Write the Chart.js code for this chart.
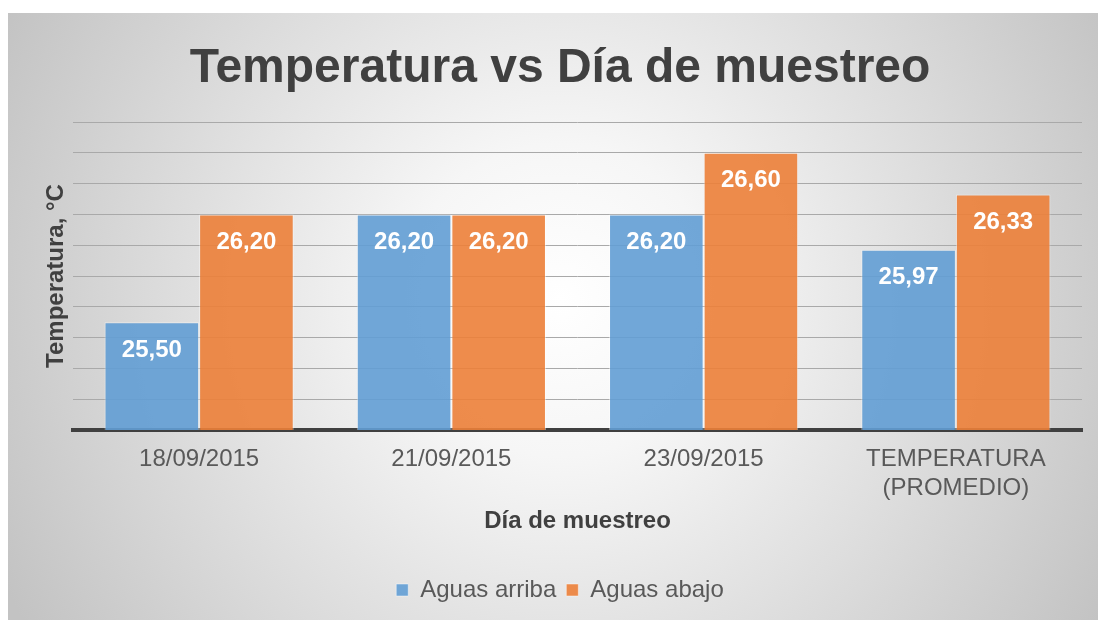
<!DOCTYPE html>
<html>
<head>
<meta charset="utf-8">
<script src="https://cdn.jsdelivr.net/npm/chart.js@4"></script>
<style>
  html, body { margin: 0; padding: 0; background: #ffffff; }
  #wrap { width: 1098px; height: 620px; position: relative; }
</style>
</head>
<body>
<div id="wrap"><canvas id="c" width="1098" height="620"></canvas></div>
<script>
const categories = ["18/09/2015", "21/09/2015", "23/09/2015", ["TEMPERATURA", "(PROMEDIO)"]];
const seriesNames = ["Aguas arriba", "Aguas abajo"];
const aguasArriba = [25.50, 26.20, 26.20, 25.97];
const aguasAbajo = [26.20, 26.20, 26.60, 26.33];
const yMin = 24.8;
const yMax = 26.8;
const yStep = 0.2;

const FONT = "'Liberation Sans', Arial, sans-serif";

const bgPlugin = {
  id: 'bg',
  beforeDraw(chart) {
    const ctx = chart.ctx;
    ctx.save();
    ctx.fillStyle = '#ffffff';
    ctx.fillRect(0, 0, chart.width, chart.height);
    const x0 = 8, y0 = 13, w = 1090, h = 607;
    const cx = 560, cy = 300;
    const g = ctx.createRadialGradient(cx, cy, 0, cx, cy, 625);
    g.addColorStop(0, '#ffffff');
    g.addColorStop(0.25, '#f6f6f6');
    g.addColorStop(1, '#c3c3c3');
    ctx.fillStyle = g;
    ctx.fillRect(x0, y0, w, h);
    ctx.restore();
  }
};

const labelPlugin = {
  id: 'vlabels',
  afterDatasetsDraw(chart) {
    const ctx = chart.ctx;
    ctx.save();
    ctx.fillStyle = '#ffffff';
    ctx.font = "bold 24px " + FONT;
    ctx.textAlign = 'center';
    ctx.textBaseline = 'middle';
    chart.data.datasets.forEach((ds, i) => {
      const meta = chart.getDatasetMeta(i);
      meta.data.forEach((bar, j) => {
        const v = ds.data[j];
        ctx.fillText(v.toFixed(2).replace('.', ','), bar.x, bar.y + 28);
      });
    });
    ctx.restore();
  }
};

new Chart(document.getElementById('c'), {
  type: 'bar',
  data: {
    labels: categories,
    datasets: [
      {
        label: seriesNames[0],
        data: aguasArriba,
        backgroundColor: 'rgba(98,157,212,0.9)',
        borderColor: 'rgba(255,255,255,0.45)',
        borderWidth: 1,
        categoryPercentage: 0.75,
        barPercentage: 1.0
      },
      {
        label: seriesNames[1],
        data: aguasAbajo,
        backgroundColor: 'rgba(236,128,57,0.9)',
        borderColor: 'rgba(255,255,255,0.45)',
        borderWidth: 1,
        categoryPercentage: 0.75,
        barPercentage: 1.0
      }
    ]
  },
  options: {
    responsive: false,
    animation: false,
    devicePixelRatio: 1,
    layout: { padding: { top: 0, left: 38, right: 16, bottom: 8 } },
    plugins: {
      title: {
        display: true,
        text: 'Temperatura vs Día de muestreo',
        color: '#404040',
        font: { family: FONT, size: 48, weight: 'bold' },
        padding: { top: 40, bottom: 24.4 }
      },
      legend: {
        display: true,
        position: 'bottom',
        labels: {
          color: '#595959',
          font: { family: FONT, size: 24 },
          boxWidth: 12,
          boxHeight: 12,
          padding: 10
        }
      },
      tooltip: { enabled: false }
    },
    scales: {
      x: {
        grid: {
          display: true,
          drawOnChartArea: false,
          drawTicks: true,
          tickLength: 14,
          color: 'rgba(0,0,0,0)',
          tickColor: 'rgba(0,0,0,0)'
        },
        border: { display: true, color: '#404040', width: 4 },
        ticks: {
          color: '#595959',
          font: { family: FONT, size: 24 },
          padding: 1,
          maxRotation: 0,
          autoSkip: false
        },
        title: {
          display: true,
          text: 'Día de muestreo',
          color: '#404040',
          font: { family: FONT, size: 24, weight: 'bold' },
          padding: { top: 3, bottom: 32.6 }
        }
      },
      y: {
        min: yMin,
        max: yMax,
        grid: { display: true, color: '#a9a9a9', lineWidth: 1, drawTicks: false },
        border: { display: false },
        ticks: { display: false, stepSize: yStep },
        title: {
          display: true,
          text: 'Temperatura, °C',
          color: '#404040',
          font: { family: FONT, size: 24, weight: 'bold' },
          padding: { top: 3.6, bottom: 2.6 }
        }
      }
    }
  },
  plugins: [bgPlugin, labelPlugin]
});
</script>
</body>
</html>
